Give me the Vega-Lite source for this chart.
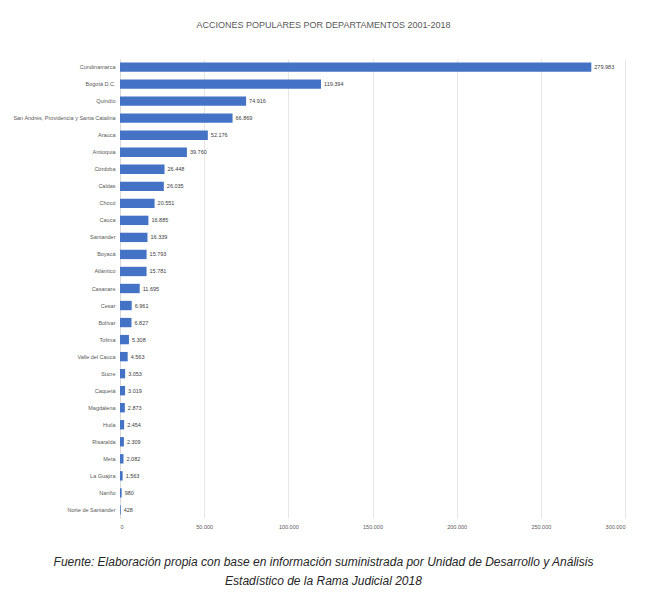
{
  "$schema": "https://vega.github.io/schema/vega-lite/v6.json",
  "width": 505,
  "height": 459,
  "autosize": {"type": "none"},
  "padding": {"left": 120, "top": 59, "right": 21, "bottom": 74},
  "background": "white",
  "title": {
    "text": "ACCIONES POPULARES POR DEPARTAMENTOS 2001-2018",
    "font": "Liberation Sans",
    "fontSize": 9,
    "fontWeight": "normal",
    "color": "#595959",
    "anchor": "middle",
    "dx": -49,
    "offset": 29
  },
  "config": {
    "locale": {"number": {"decimal": ",", "thousands": ".", "grouping": [3], "currency": ["$", ""]}},
    "view": {"stroke": null},
    "font": "Liberation Sans"
  },
  "data": {
    "values": [
      {"departamento": "Cundinamarca", "acciones": 279983},
      {"departamento": "Bogotá D.C.", "acciones": 119394},
      {"departamento": "Quindío", "acciones": 74916},
      {"departamento": "San Andrés, Providencia y Santa Catalina", "acciones": 66869},
      {"departamento": "Arauca", "acciones": 52176},
      {"departamento": "Antioquia", "acciones": 39760},
      {"departamento": "Córdoba", "acciones": 26448},
      {"departamento": "Caldas", "acciones": 26035},
      {"departamento": "Chocó", "acciones": 20551},
      {"departamento": "Cauca", "acciones": 16885},
      {"departamento": "Santander", "acciones": 16339},
      {"departamento": "Boyacá", "acciones": 15793},
      {"departamento": "Atlántico", "acciones": 15781},
      {"departamento": "Casanare", "acciones": 11695},
      {"departamento": "Cesar", "acciones": 6961},
      {"departamento": "Bolívar", "acciones": 6827},
      {"departamento": "Tolima", "acciones": 5308},
      {"departamento": "Valle del Cauca", "acciones": 4563},
      {"departamento": "Sucre", "acciones": 3053},
      {"departamento": "Caquetá", "acciones": 3019},
      {"departamento": "Magdalena", "acciones": 2873},
      {"departamento": "Huila", "acciones": 2454},
      {"departamento": "Risaralda", "acciones": 2309},
      {"departamento": "Meta", "acciones": 2082},
      {"departamento": "La Guajira", "acciones": 1563},
      {"departamento": "Nariño", "acciones": 980},
      {"departamento": "Norte de Santander", "acciones": 428}
    ]
  },
  "encoding": {
    "y": {
      "field": "departamento",
      "type": "nominal",
      "sort": null,
      "scale": {"paddingInner": 0.45, "paddingOuter": 0.2},
      "axis": {
        "title": null,
        "ticks": false,
        "domain": true,
        "domainColor": "#d9d9d9",
        "labelFont": "Liberation Sans",
        "labelFontSize": 5.5,
        "labelColor": "#595959",
        "labelPadding": 5,
        "labelLimit": 200
      }
    },
    "x": {
      "field": "acciones",
      "type": "quantitative",
      "scale": {"domain": [0, 300000]},
      "axis": {
        "values": [0, 50000, 100000, 150000, 200000, 250000, 300000],
        "format": ",d",
        "ticks": false,
        "domain": false,
        "grid": true,
        "gridColor": "#e6e6e6",
        "labelFont": "Liberation Sans",
        "labelFontSize": 5.5,
        "labelColor": "#595959",
        "labelPadding": 6,
        "title": [
          "Fuente: Elaboración propia con base en información suministrada por Unidad de Desarrollo y Análisis",
          "Estadístico de la Rama Judicial 2018"
        ],
        "titleFont": "Liberation Sans",
        "titleFontStyle": "italic",
        "titleFontWeight": "normal",
        "titleFontSize": 12,
        "titleColor": "#262626",
        "titleLineHeight": 19,
        "titleX": 203,
        "titleY": 38,
        "titleAlign": "center",
        "titleBaseline": "top"
      }
    }
  },
  "layer": [
    {"mark": {"type": "bar", "color": "#4472C4"}},
    {
      "mark": {"type": "text", "align": "left", "dx": 3, "fontSize": 5.5, "color": "#404040", "font": "Liberation Sans"},
      "encoding": {"text": {"field": "acciones", "type": "quantitative", "format": ",d"}}
    }
  ]
}
